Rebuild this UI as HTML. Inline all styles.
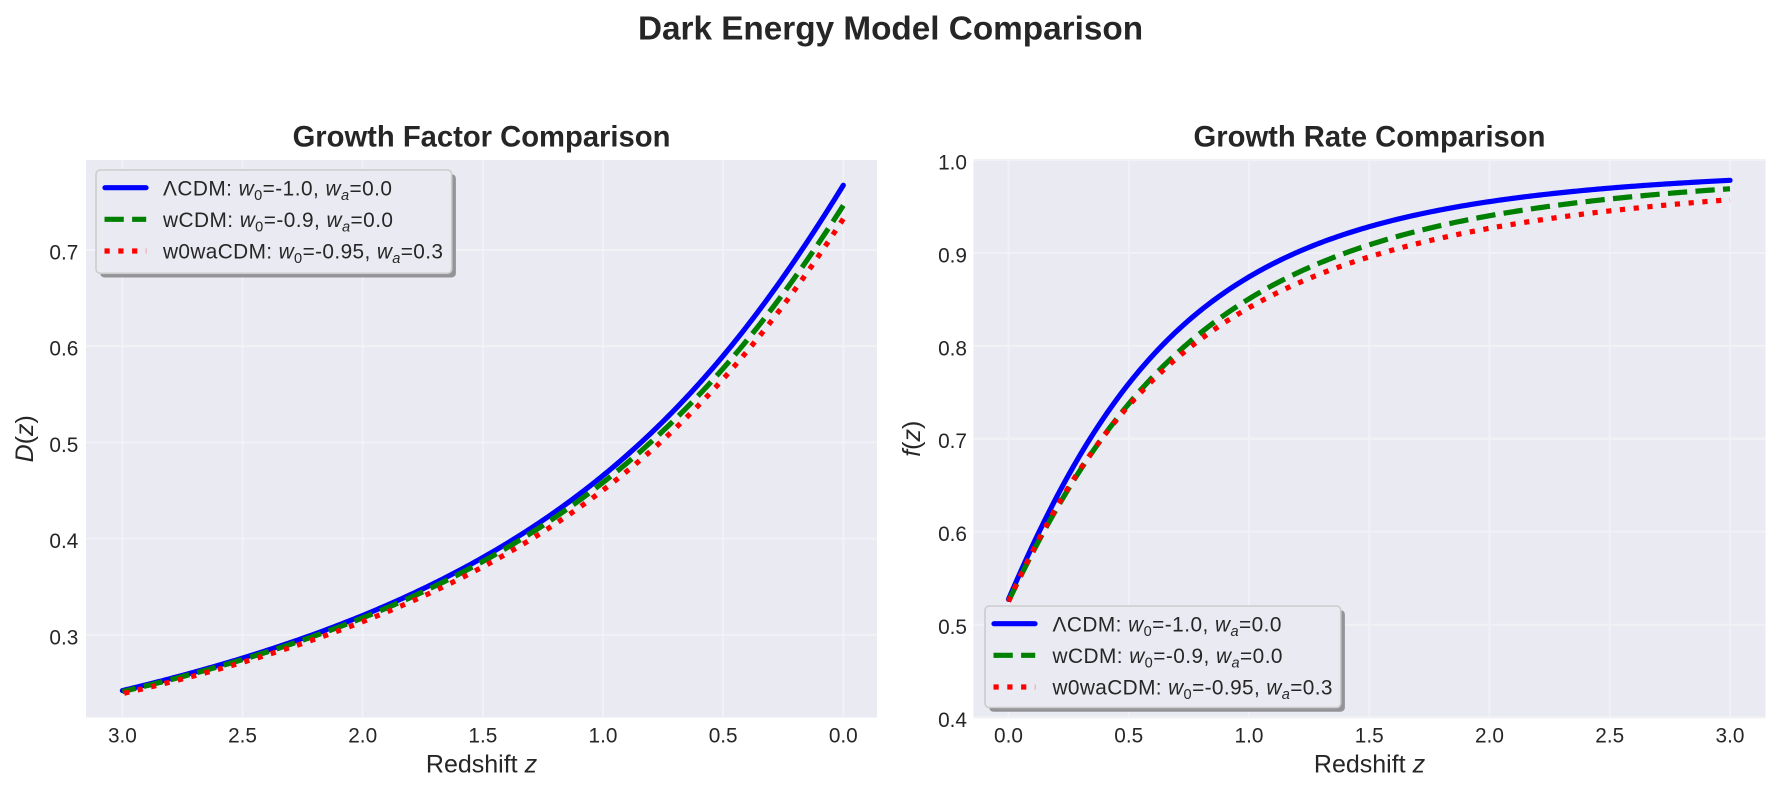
<!DOCTYPE html>
<html>
<head>
<meta charset="utf-8">
<style>
  html,body{margin:0;padding:0;background:#fff;}
  svg{display:block;}
  text{font-family:"Liberation Sans","DejaVu Sans",sans-serif;fill:#262626;}
</style>
</head>
<body>
<svg id="fig" xmlns="http://www.w3.org/2000/svg" width="1781" height="792" viewBox="0 0 1781 792">
  <rect x="0" y="0" width="1781" height="792" fill="#ffffff"/>

  <!-- Suptitle -->
  <text x="890.5" y="39.3" font-size="33.3" font-weight="bold" text-anchor="middle">Dark Energy Model Comparison</text>

  <!-- ============ LEFT AXES ============ -->
  <rect x="86" y="160" width="791" height="557.5" fill="#eaeaf2"/>
  <g id="gridL" stroke="#f1f1f6" stroke-width="1.9"></g>
  <text x="481.5" y="146.7" font-size="29.2" font-weight="bold" text-anchor="middle">Growth Factor Comparison</text>
  <g id="ticksL" font-size="20.8"></g>
  <text x="481.5" y="772.7" font-size="25" text-anchor="middle">Redshift <tspan font-style="italic">z</tspan></text>
  <text transform="translate(33,438.75) rotate(-90)" x="0" y="0" font-size="25" text-anchor="middle"><tspan font-style="italic">D</tspan>(<tspan font-style="italic">z</tspan>)</text>
  <g id="curvesL" fill="none" stroke-width="5.2"></g>

  <!-- Left legend -->
  <g>
    <rect x="100.2" y="174.2" width="355.7" height="103.3" rx="4.2" ry="4.2" fill="#939398"/>
    <rect x="96" y="170" width="355.7" height="103.3" rx="4.2" ry="4.2" fill="#eaeaf2" stroke="#cccccc" stroke-width="1.6"/>
    <line x1="105" y1="187.7" x2="146" y2="187.7" stroke="#0000ff" stroke-width="5.2" stroke-linecap="round"/>
    <line x1="104.5" y1="219.3" x2="146.2" y2="219.3" stroke="#008000" stroke-width="5.2" stroke-dasharray="19.3 8.3"/>
    <line x1="104.5" y1="251" x2="146.2" y2="251" stroke="#ff0000" stroke-width="5.2" stroke-dasharray="5.2 8.6"/>
    <text x="163" y="195.3" font-size="20.8" textLength="229" lengthAdjust="spacing">ΛCDM:&#160;<tspan font-style="italic">w</tspan><tspan font-size="14.6" dy="4.5">0</tspan><tspan dy="-4.5">=-1.0,&#160;</tspan><tspan font-style="italic">w</tspan><tspan font-size="14.6" font-style="italic" dy="4.5">a</tspan><tspan dy="-4.5">=0.0</tspan></text>
    <text x="163" y="227" font-size="20.8" textLength="230" lengthAdjust="spacing">wCDM:&#160;<tspan font-style="italic">w</tspan><tspan font-size="14.6" dy="4.5">0</tspan><tspan dy="-4.5">=-0.9,&#160;</tspan><tspan font-style="italic">w</tspan><tspan font-size="14.6" font-style="italic" dy="4.5">a</tspan><tspan dy="-4.5">=0.0</tspan></text>
    <text x="163" y="258.7" font-size="20.8" textLength="280" lengthAdjust="spacing">w0waCDM:&#160;<tspan font-style="italic">w</tspan><tspan font-size="14.6" dy="4.5">0</tspan><tspan dy="-4.5">=-0.95,&#160;</tspan><tspan font-style="italic">w</tspan><tspan font-size="14.6" font-style="italic" dy="4.5">a</tspan><tspan dy="-4.5">=0.3</tspan></text>
  </g>

  <!-- ============ RIGHT AXES ============ -->
  <rect x="973.5" y="160" width="792" height="557.5" fill="#eaeaf2"/>
  <g id="gridR" stroke="#f1f1f6" stroke-width="1.9"></g>
  <text x="1369.5" y="146.7" font-size="29.2" font-weight="bold" text-anchor="middle">Growth Rate Comparison</text>
  <g id="ticksR" font-size="20.8"></g>
  <text x="1369.5" y="772.7" font-size="25" text-anchor="middle">Redshift <tspan font-style="italic">z</tspan></text>
  <text transform="translate(920,438.75) rotate(-90)" x="0" y="0" font-size="25" text-anchor="middle"><tspan font-style="italic">f</tspan>(<tspan font-style="italic">z</tspan>)</text>
  <g id="curvesR" fill="none" stroke-width="5.2"></g>

  <!-- Right legend -->
  <g>
    <rect x="989.2" y="610.2" width="355.7" height="101.5" rx="4.2" ry="4.2" fill="#939398"/>
    <rect x="985" y="606" width="355.7" height="101.5" rx="4.2" ry="4.2" fill="#eaeaf2" stroke="#cccccc" stroke-width="1.6"/>
    <line x1="994" y1="623.7" x2="1035" y2="623.7" stroke="#0000ff" stroke-width="5.2" stroke-linecap="round"/>
    <line x1="993.5" y1="655.3" x2="1035.2" y2="655.3" stroke="#008000" stroke-width="5.2" stroke-dasharray="19.3 8.3"/>
    <line x1="993.5" y1="687" x2="1035.2" y2="687" stroke="#ff0000" stroke-width="5.2" stroke-dasharray="5.2 8.6"/>
    <text x="1052.5" y="631.3" font-size="20.8" textLength="229" lengthAdjust="spacing">ΛCDM:&#160;<tspan font-style="italic">w</tspan><tspan font-size="14.6" dy="4.5">0</tspan><tspan dy="-4.5">=-1.0,&#160;</tspan><tspan font-style="italic">w</tspan><tspan font-size="14.6" font-style="italic" dy="4.5">a</tspan><tspan dy="-4.5">=0.0</tspan></text>
    <text x="1052.5" y="663" font-size="20.8" textLength="230" lengthAdjust="spacing">wCDM:&#160;<tspan font-style="italic">w</tspan><tspan font-size="14.6" dy="4.5">0</tspan><tspan dy="-4.5">=-0.9,&#160;</tspan><tspan font-style="italic">w</tspan><tspan font-size="14.6" font-style="italic" dy="4.5">a</tspan><tspan dy="-4.5">=0.0</tspan></text>
    <text x="1052.5" y="694.7" font-size="20.8" textLength="280" lengthAdjust="spacing">w0waCDM:&#160;<tspan font-style="italic">w</tspan><tspan font-size="14.6" dy="4.5">0</tspan><tspan dy="-4.5">=-0.95,&#160;</tspan><tspan font-style="italic">w</tspan><tspan font-size="14.6" font-style="italic" dy="4.5">a</tspan><tspan dy="-4.5">=0.3</tspan></text>
  </g>
</svg>

<script>
(function(){
  var NS="http://www.w3.org/2000/svg";
  function el(tag, attrs, parent, txt){
    var e=document.createElementNS(NS,tag);
    for(var k in attrs){e.setAttribute(k,attrs[k]);}
    if(txt!==undefined){e.textContent=txt;}
    parent.appendChild(e); return e;
  }
  var Lx=function(z){return 843.3-240.3*z;};
  var Ly=function(v){return 250+(0.7-v)*962;};
  var Rx=function(z){return 1008.5+240.5*z;};
  var Ry=function(v){return 717.5-(v-0.4)*929.17;};

  var gL=document.getElementById("gridL"), tL=document.getElementById("ticksL");
  var gR=document.getElementById("gridR"), tR=document.getElementById("ticksR");
  var zt=[0,0.5,1,1.5,2,2.5,3];
  zt.forEach(function(z){
    var x=Lx(z);
    el("line",{x1:x,y1:160,x2:x,y2:717.5},gL);
    el("text",{x:x,y:742.3,"text-anchor":"middle"},tL,z.toFixed(1));
    var xr=Rx(z);
    el("line",{x1:xr,y1:160,x2:xr,y2:717.5},gR);
    el("text",{x:xr,y:742.3,"text-anchor":"middle"},tR,z.toFixed(1));
  });
  [0.3,0.4,0.5,0.6,0.7].forEach(function(v){
    var y=Ly(v);
    el("line",{x1:86,y1:y,x2:877,y2:y},gL);
    el("text",{x:78.3,y:y+9.5,"text-anchor":"end"},tL,v.toFixed(1));
  });
  [0.4,0.5,0.6,0.7,0.8,0.9,1.0].forEach(function(v){
    var y=Ry(v);
    el("line",{x1:973.5,y1:y,x2:1765.5,y2:y},gR);
    el("text",{x:967,y:y+9.5,"text-anchor":"end"},tR,v.toFixed(1));
  });

  function solve(w0,wa){
    var Om=0.315,Ode=0.685;
    function der(x,y){
      var a=Math.exp(x); var w=w0+wa*(1-a);
      var m=Om*Math.pow(a,-3);
      var de=Ode*Math.pow(a,-3*(1+w0+wa))*Math.exp(-3*wa*(1-a));
      var E2=m+de; var dl=(-3*m-3*(1+w)*de)/E2;
      return [y[1], -(2+0.5*dl)*y[1]+1.5*(m/E2)*y[0]];
    }
    function rk(x,y,h){
      var k1=der(x,y);
      var k2=der(x+h/2,[y[0]+h/2*k1[0],y[1]+h/2*k1[1]]);
      var k3=der(x+h/2,[y[0]+h/2*k2[0],y[1]+h/2*k2[1]]);
      var k4=der(x+h,[y[0]+h*k3[0],y[1]+h*k3[1]]);
      return [y[0]+h/6*(k1[0]+2*k2[0]+2*k3[0]+k4[0]), y[1]+h/6*(k1[1]+2*k2[1]+2*k3[1]+k4[1])];
    }
    var ai=1e-3, x=Math.log(ai), y=[ai,ai];
    var xe=-Math.log(4), N=3000, h=(xe-x)/N;
    for(var i=0;i<N;i++){y=rk(x,y,h);x+=h;}
    x=xe;
    var out=[[3,y[0],y[1]/y[0]]];
    for(var k=1;k<=300;k++){
      var z=Math.max(0,3-k*0.01); var xn=-Math.log(1+z);
      var sub=4, hh=(xn-x)/sub;
      for(var j=0;j<sub;j++){y=rk(x,y,hh);x+=hh;}
      x=xn; out.push([z,y[0],y[1]/y[0]]);
    }
    out.reverse(); return out;
  }
  var models=[
    {w0:-1.0,wa:0.0,c:"#0000ff",dash:null},
    {w0:-0.9,wa:0.0,c:"#008000",dash:"19.3 8.3"},
    {w0:-0.95,wa:0.3,c:"#ff0000",dash:"5.2 8.6"}
  ];
  var data=models.map(function(m){return solve(m.w0,m.wa);});
  var kN=0.7673/data[0][0][1];
  var cL=document.getElementById("curvesL"), cR=document.getElementById("curvesR");
  models.forEach(function(m,i){
    var d=data[i], pL="", pR="";
    for(var j=0;j<d.length;j++){
      var z=d[j][0], D=d[j][1]*kN, f=d[j][2];
      var a=1/(1+z);
      f = f - 0.0038*(1-a)/0.75;
      pL+=(j?"L":"M")+Lx(z).toFixed(2)+" "+Ly(D).toFixed(2);
      pR+=(j?"L":"M")+Rx(z).toFixed(2)+" "+Ry(f).toFixed(2);
    }
    var a1={d:pL,stroke:m.c}, a2={d:pR,stroke:m.c};
    if(m.dash){a1["stroke-dasharray"]=m.dash;a2["stroke-dasharray"]=m.dash;a1["stroke-linecap"]="butt";a2["stroke-linecap"]="butt";}
    else{a1["stroke-linecap"]="round";a2["stroke-linecap"]="round";a1["stroke-linejoin"]="round";a2["stroke-linejoin"]="round";}
    el("path",a1,cL); el("path",a2,cR);
  });
})();
</script>
</body>
</html>
